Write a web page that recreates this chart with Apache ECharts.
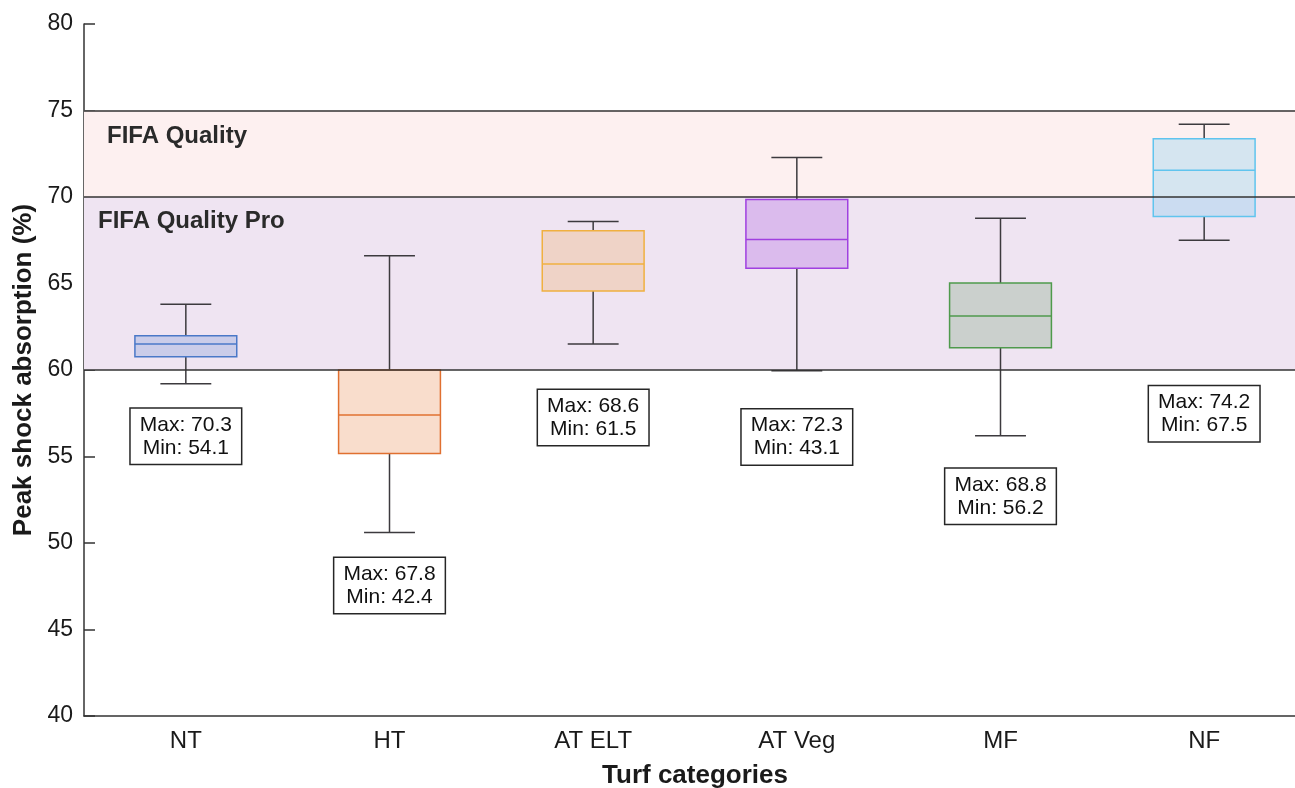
<!DOCTYPE html>
<html>
<head>
<meta charset="utf-8">
<title>Peak shock absorption by turf category</title>
<script src="https://cdn.jsdelivr.net/npm/echarts@6/dist/echarts.min.js"></script>
<style>
  html, body { margin: 0; padding: 0; background: #ffffff; overflow: hidden; }
  #chart { width: 1295px; height: 788px; }
</style>
</head>
<body>
<div id="chart"></div>
<script>
// Turf categories along the x axis
const categories = ['NT', 'HT', 'AT ELT', 'AT Veg', 'MF', 'NF'];

// Box statistics (%)
const whiskerLow  = [59.2, 50.6, 61.5, 59.95, 56.2, 67.5];
const quartile1   = [60.77, 55.18, 64.57, 65.88, 61.29, 68.88];
const medians     = [61.5, 57.4, 66.13, 67.55, 63.12, 71.54];
const quartile3   = [61.98, 60.0, 68.05, 69.86, 65.03, 73.37];
const whiskerHigh = [63.8, 66.6, 68.59, 72.29, 68.77, 74.2];

// Overall range written in each note
const rangeMax = [70.3, 67.8, 68.6, 72.3, 68.8, 74.2];
const rangeMin = [54.1, 42.4, 61.5, 43.1, 56.2, 67.5];

// FIFA quality bands (%)
const bandQuality    = [70, 75];
const bandQualityPro = [60, 70];

// Y axis ticks
const yTicks = { min: 40, max: 80, step: 5 };

// Where each note box sits (y value of its centre)
const noteAnchorY = [56.17, 47.55, 57.25, 56.12, 52.7, 57.47];

// Styling
const strokeColors = ['#4a78c8', '#e07030', '#f0b040', '#a040e0', '#4f9a4c', '#60c4ee'];
const fillColors = [
  'rgba(74,120,200,0.22)',
  'rgba(230,120,50,0.25)',
  'rgba(240,170,90,0.28)',
  'rgba(160,64,224,0.25)',
  'rgba(60,130,60,0.2)',
  'rgba(96,196,238,0.25)'
];
const inkColor = '#333333';
const fontFamily = 'Liberation Sans, Arial, Helvetica, sans-serif';

const boxData = categories.map((c, i) => [i, whiskerLow[i], quartile1[i], medians[i], quartile3[i], whiskerHigh[i]]);
const noteData = categories.map((c, i) => [i, noteAnchorY[i]]);

function renderBox(params, api) {
  const i = api.value(0);
  const lo = api.coord([i, api.value(1)]);
  const q1 = api.coord([i, api.value(2)]);
  const md = api.coord([i, api.value(3)]);
  const q3 = api.coord([i, api.value(4)]);
  const hi = api.coord([i, api.value(5)]);
  const bw = api.size([1, 0])[0] * 0.5;
  const cw = bw * 0.5;
  const x = q1[0];
  const wStyle = { stroke: '#3c3a3e', lineWidth: 1.5 };
  return {
    type: 'group',
    children: [
      { type: 'line', shape: { x1: x, y1: q3[1], x2: x, y2: hi[1] }, style: wStyle },
      { type: 'line', shape: { x1: x, y1: q1[1], x2: x, y2: lo[1] }, style: wStyle },
      { type: 'line', shape: { x1: x - cw / 2, y1: hi[1], x2: x + cw / 2, y2: hi[1] }, style: wStyle },
      { type: 'line', shape: { x1: x - cw / 2, y1: lo[1], x2: x + cw / 2, y2: lo[1] }, style: wStyle },
      { type: 'rect', shape: { x: x - bw / 2, y: q3[1], width: bw, height: q1[1] - q3[1] },
        style: { fill: fillColors[i], stroke: strokeColors[i], lineWidth: 1.5 } },
      { type: 'line', shape: { x1: x - bw / 2, y1: md[1], x2: x + bw / 2, y2: md[1] },
        style: { stroke: strokeColors[i], lineWidth: 1.5 } }
    ]
  };
}

const chart = echarts.init(document.getElementById('chart'), null, { renderer: 'canvas' });

chart.setOption({
  animation: false,
  backgroundColor: '#ffffff',
  grid: { left: 84, top: 24, bottom: 72, right: -11, containLabel: false, outerBoundsMode: 'none' },
  xAxis: {
    type: 'category',
    data: categories,
    boundaryGap: true,
    name: 'Turf categories',
    nameLocation: 'middle',
    nameGap: 47,
    nameTextStyle: { fontFamily, fontSize: 26, fontWeight: 'bold', color: '#1a1a1a' },
    axisLine: { lineStyle: { color: inkColor, width: 1.5 } },
    axisTick: { inside: true, length: 10, alignWithLabel: true, lineStyle: { color: inkColor, width: 1.5 } },
    axisLabel: { fontFamily, fontSize: 24, color: '#1a1a1a', margin: 13 },
    splitLine: { show: false }
  },
  yAxis: {
    type: 'value',
    min: yTicks.min,
    max: yTicks.max,
    interval: yTicks.step,
    name: 'Peak shock absorption (%)',
    nameLocation: 'middle',
    nameGap: 42,
    nameRotate: 90,
    nameTextStyle: { fontFamily, fontSize: 26, fontWeight: 'bold', color: '#1a1a1a' },
    axisLine: { show: true, lineStyle: { color: inkColor, width: 1.5 } },
    axisTick: { show: true, inside: true, length: 11, lineStyle: { color: inkColor, width: 1.5 } },
    axisLabel: { fontFamily, fontSize: 23, color: '#1a1a1a', margin: 11 },
    splitLine: { show: false }
  },
  series: [
    {
      name: 'bands',
      type: 'scatter',
      data: [],
      z: 1,
      silent: true,
      markArea: {
        silent: true,
        data: [
          [
            { yAxis: bandQuality[0], itemStyle: { color: '#fdf0f0' },
              label: { show: true, position: [23, 14], formatter: 'FIFA Quality',
                       fontFamily, fontSize: 24, fontWeight: 'bold', color: '#2a2a2a' } },
            { yAxis: bandQuality[1] }
          ],
          [
            { yAxis: bandQualityPro[0], itemStyle: { color: '#efe4f2' },
              label: { show: true, position: [14, 12], formatter: 'FIFA Quality Pro',
                       fontFamily, fontSize: 24, fontWeight: 'bold', color: '#2a2a2a' } },
            { yAxis: bandQualityPro[1] }
          ]
        ]
      }
    },
    {
      name: 'boxes',
      type: 'custom',
      z: 2,
      data: boxData,
      encode: { x: 0, y: [1, 2, 3, 4, 5] },
      renderItem: renderBox
    },
    {
      name: 'band edges',
      type: 'scatter',
      data: [],
      z: 3,
      silent: true,
      markLine: {
        silent: true,
        symbol: ['none', 'none'],
        label: { show: false },
        lineStyle: { color: inkColor, width: 1.5, type: 'solid' },
        data: [
          { yAxis: bandQuality[1] },
          { yAxis: bandQuality[0] },
          { yAxis: bandQualityPro[0] }
        ]
      }
    },
    {
      name: 'notes',
      type: 'scatter',
      z: 4,
      symbolSize: 0,
      itemStyle: { opacity: 1 },
      data: noteData,
      label: {
        show: true,
        position: 'inside',
        formatter: p => 'Max: ' + rangeMax[p.dataIndex].toFixed(1) + '\nMin: ' + rangeMin[p.dataIndex].toFixed(1),
        fontFamily,
        fontSize: 21,
        lineHeight: 23,
        color: '#111111',
        textBorderWidth: 0,
        align: 'center',
        backgroundColor: '#ffffff',
        borderColor: '#262626',
        borderWidth: 1.5,
        padding: [5, 9, 4, 9]
      }
    }
  ]
});
</script>
</body>
</html>
